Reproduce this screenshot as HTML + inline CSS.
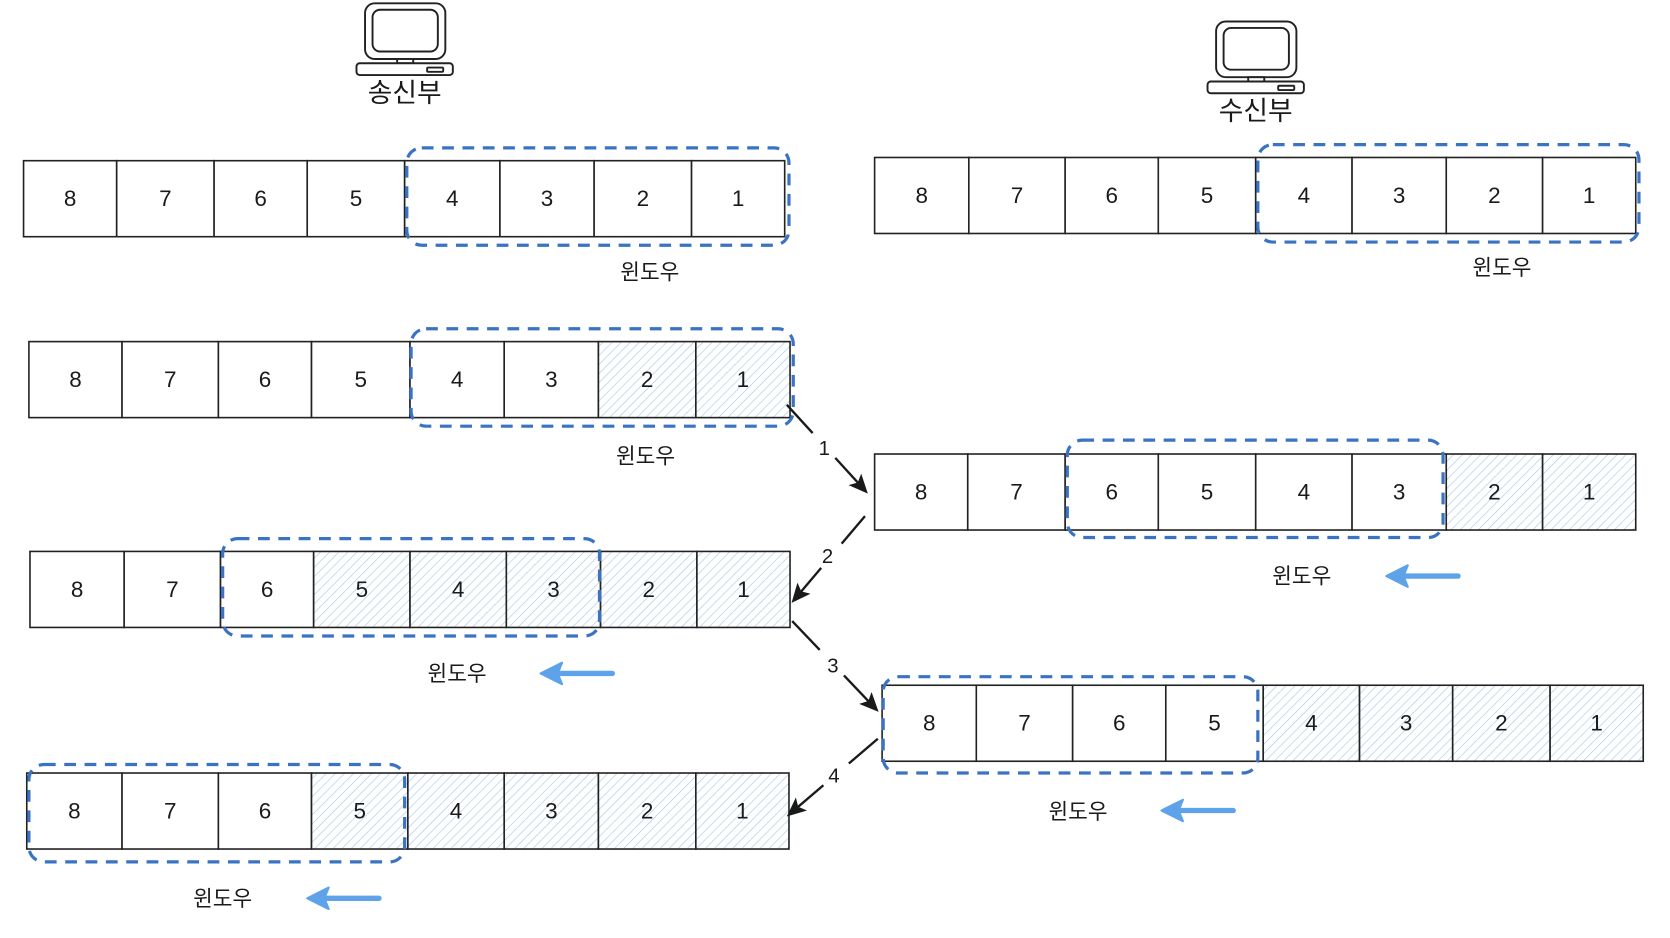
<!DOCTYPE html>
<html><head><meta charset="utf-8"><style>
html,body{margin:0;padding:0;background:#fff;width:1670px;height:938px;overflow:hidden}
svg{display:block}
text{font-family:"Liberation Sans","Noto Sans CJK KR",sans-serif;fill:#1a1a1a}
</style></head><body>
<svg id="fig" width="1670" height="938" viewBox="0 0 1560 876" xmlns="http://www.w3.org/2000/svg">
<defs>
<pattern id="hatch" patternUnits="userSpaceOnUse" width="6" height="6" patternTransform="rotate(45)">
<rect width="6" height="6" fill="#fff"/>
<line x1="0" y1="0" x2="0" y2="6" stroke="#a9c9ea" stroke-width="1.2"/>
</pattern>
<marker id="ah" markerWidth="18" markerHeight="18" refX="14" refY="8" orient="auto" markerUnits="userSpaceOnUse" viewBox="0 0 18 16"><path d="M0,0 L18,8 L0,16 L4,8 z" fill="#1a1a1a"/></marker>
</defs>
<g id="computers"></g>
<g id="rows"></g>
<g id="arrows"></g>
</svg>
<script>
const NS='http://www.w3.org/2000/svg';
const rowNames=['sender-step-1','receiver-step-1','sender-step-2','receiver-step-2','sender-step-3','receiver-step-3','sender-step-4'];
const rowBounds=[[22,109,200,287,378,467,555,646,733],[817,905,995,1082,1173,1263,1351,1441,1528],[27,114,204,291,383,471,559,650,738],[817,904,995,1082,1173,1263,1351,1441,1528],[28,116,206,293,383,473,561,651,738],[824,912,1002,1089,1180,1270,1357,1448,1535],[25,114,204,291,381,471,559,650,737]];
const rowTop=[150,147,319,424,515,640,722];
const cellLabels=['8','7','6','5','4','3','2','1'];
const rowShaded=[[],[],['2','1'],['2','1'],['5','4','3','2','1'],['4','3','2','1'],['5','4','3','2','1']];
const winBox=[[380,138,737,229],[1175,135,1531,226],[384,307,741,398],[997,411,1348,502],[208,503,560,594],[825,632,1175,722],[27,714,378,805]];
const winLabel=[[607,253],[1403,249],[603,425],[1216,537],[427,628],[1007,757],[208,838]];
const moveArrow=[null,null,null,[1362,1295,538],[572,505,629],[1152,1085,757],[354,287,839]];
const arrowSeg=[[735,378,808,458,770,418],[808,482,742,560,773,519],[740,580,818,662,778,621],[820,690,738,760,779,724]];
const arrowLabels=['1','2','3','4'];
function mk(tag,attrs,parent){const e=document.createElementNS(NS,tag);for(const k in attrs)e.setAttribute(k,attrs[k]);parent.appendChild(e);return e;}
const rows=document.getElementById('rows');
rowNames.forEach((nm,r)=>{
  const g=mk('g',{},rows);
  
  
  const b=rowBounds[r],t=rowTop[r],h=71;
  cellLabels.forEach((lab,i)=>{
    const sh=rowShaded[r].includes(lab);
    const rc=mk('rect',{x:b[i],y:t,width:b[i+1]-b[i],height:h,fill:sh?'url(#hatch)':'#fff',stroke:'#222','stroke-width':1.5},g);
    
    
    const tx=mk('text',{x:(b[i]+b[i+1])/2,y:t+h/2+7,'text-anchor':'middle','font-size':21},g);
    tx.textContent=lab;
    
    
  });
  const w=winBox[r];
  const wr=mk('rect',{x:w[0],y:w[1],width:w[2]-w[0],height:w[3]-w[1],rx:14,fill:'none',stroke:'#3b73c4','stroke-width':3,'stroke-dasharray':'11 8'},g);
  
  
  const l=winLabel[r];
  const lt=mk('text',{x:l[0],y:l[1]+8,'text-anchor':'middle','font-size':20},g);
  lt.textContent='윈도우';
  
  
  const m=moveArrow[r];
  if(m){
    const ag=mk('g',{},g);
    
    
    mk('line',{x1:m[0],y1:m[2],x2:m[1]+14,y2:m[2],stroke:'#5ea3ea','stroke-width':5,'stroke-linecap':'round'},ag);
    mk('path',{d:`M${m[1]},${m[2]} L${m[1]+20},${m[2]-10} L${m[1]+16},${m[2]} L${m[1]+20},${m[2]+10} Z`,fill:'#5ea3ea',stroke:'#5ea3ea','stroke-width':2,'stroke-linejoin':'round'},ag);
  }
});
const arrows=document.getElementById('arrows');
arrowSeg.forEach((a,i)=>{
  const g=mk('g',{},arrows);
  
  
  const [x1,y1,x2,y2,lx,ly]=a;
  const dx=x2-x1,dy=y2-y1;
  mk('line',{x1:x1,y1:y1,x2:x1+dx*0.33,y2:y1+dy*0.33,stroke:'#1a1a1a','stroke-width':2.2},g);
  mk('line',{x1:x1+dx*0.62,y1:y1+dy*0.62,x2:x2,y2:y2,stroke:'#1a1a1a','stroke-width':2.2,'marker-end':'url(#ah)'},g);
  const t=mk('text',{x:lx,y:ly+7,'text-anchor':'middle','font-size':19},g);
  t.textContent=arrowLabels[i];
});
const comps=document.getElementById('computers');
[[378,0,'송신부','sender'],[1173,17,'수신부','receiver']].forEach(c=>{
  const [cx,oy,lab,nm]=c;
  const g=mk('g',{transform:`translate(${cx-378},${oy})`},comps);
  
  
  const s={fill:'#fff',stroke:'#222','stroke-width':1.8};
  mk('rect',Object.assign({x:341,y:3,width:75,height:52,rx:9},s),g);
  mk('rect',Object.assign({x:348,y:9,width:61,height:39,rx:7},s),g);
  mk('rect',Object.assign({x:371,y:55,width:15,height:4},s),g);
  mk('rect',Object.assign({x:333,y:59,width:90,height:11,rx:3},s),g);
  mk('rect',Object.assign({x:399,y:63,width:15,height:4,rx:1},s),g);
  const t=mk('text',{x:cx,y:98+oy-3,'text-anchor':'middle','font-size':25},comps);
  t.textContent=lab;
  
  
});
</script>
</body></html>
